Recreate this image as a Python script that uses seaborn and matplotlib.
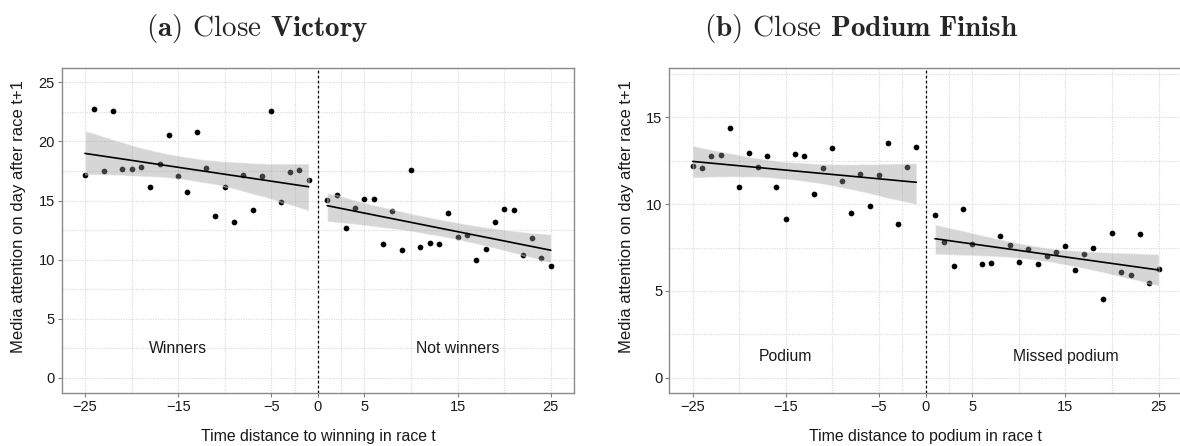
import matplotlib
matplotlib.use("Agg")
import matplotlib.pyplot as plt
import numpy as np
import pandas as pd
import seaborn as sns
from matplotlib.collections import PolyCollection

# Panel (a): close victory, media attention by time distance to the winner
win_x = list(range(-25, 0))
win_y = [17.13, 22.77, 17.47, 22.60, 17.64, 17.70, 17.80, 16.11, 18.06, 20.57,
         17.05, 15.69, 20.77, 17.72, 13.66, 16.11, 13.15, 17.19, 14.17, 17.05,
         22.55, 14.84, 17.38, 17.55, 16.71]
notwin_x = list(range(1, 26))
notwin_y = [15.07, 15.44, 12.64, 14.34, 15.10, 15.10, 11.29, 14.08, 10.78, 17.55,
            11.04, 11.37, 11.29, 13.91, 11.88, 12.05, 10.00, 10.87, 13.15, 14.25,
            14.17, 10.36, 11.80, 10.11, 9.43]

# Panel (b): close podium finish
podium_x = list(range(-25, 0))
podium_y = [12.20, 12.09, 12.74, 12.80, 14.35, 11.00, 12.91, 12.11, 12.74, 11.00,
            9.16, 12.85, 12.74, 10.59, 12.05, 13.20, 11.30, 9.46, 11.70, 9.90,
            11.65, 13.49, 8.87, 12.11, 13.26]
missed_x = list(range(1, 26))
missed_y = [9.35, 7.80, 6.42, 9.69, 7.68, 6.53, 6.59, 8.14, 7.62, 6.65,
            7.39, 6.53, 6.99, 7.22, 7.57, 6.19, 7.11, 7.45, 4.52, 8.31,
            6.07, 5.90, 8.26, 5.44, 6.25]

x_ticks = [-25, -15, -5, 0, 5, 15, 25]
x_minor = [-20, -10, -2.5, 2.5, 10, 20]

sns.set_style("white")
plt.rcParams["font.family"] = ["Liberation Sans", "DejaVu Sans"]
plt.rcParams["mathtext.fontset"] = "cm"

fig = plt.figure(figsize=(11.8, 4.46), dpi=100)
ax_a = fig.add_axes([0.0523, 0.1195, 0.4342, 0.7291])
ax_b = fig.add_axes([0.5672, 0.1195, 0.4345, 0.7291])


def draw_panel(ax, xl, yl, xr, yr, ymax, yticks, labels, label_y, xlabel, seed):
    df = pd.DataFrame({"x": xl + xr, "y": yl + yr})
    sns.scatterplot(data=df, x="x", y="y", color="black", s=17, linewidth=0,
                    ax=ax, zorder=2)
    for i, (xs, ys) in enumerate(((xl, yl), (xr, yr))):
        sns.regplot(x=np.array(xs), y=np.array(ys), scatter=False, ci=95,
                    n_boot=2000, seed=seed + i, color="black", truncate=True,
                    line_kws=dict(lw=1.2, zorder=4), ax=ax)
        band = [c for c in ax.collections if isinstance(c, PolyCollection)][-1]
        band.set_facecolor((0.6, 0.6, 0.6))
        band.set_alpha(0.4)
        band.set_zorder(3)
    ax.axvline(0, color="black", lw=0.9, ls=(0, (2.2, 1.8)), zorder=3)

    pad = 0.05 * ymax
    ax.set_xlim(-27.5, 27.5)
    ax.set_ylim(-pad, ymax + pad)
    ax.set_xticks(x_ticks)
    ax.set_xticks(x_minor, minor=True)
    ax.set_yticks(yticks)
    ax.set_yticks(np.arange(2.5, ymax + pad, 5.0), minor=True)
    ax.grid(which="both", linestyle=(0, (1, 1.2)), color="#d9d9d9", lw=0.8)
    ax.set_axisbelow(True)
    ax.tick_params(which="major", length=3, width=0.8, color="#7f7f7f",
                   labelsize=10.5, labelcolor="#1a1a1a", pad=2,
                   left=True, bottom=True)
    ax.tick_params(which="minor", length=0)
    for sp in ax.spines.values():
        sp.set_color("#8a8a8a")
        sp.set_linewidth(1.0)
    ax.text(-15, label_y, labels[0], ha="center", va="center", fontsize=11.3,
            color="#1a1a1a")
    ax.text(15, label_y, labels[1], ha="center", va="center", fontsize=11.3,
            color="#1a1a1a")
    ax.set_xlabel(xlabel, fontsize=11.4, color="#1a1a1a", labelpad=11)
    ax.set_ylabel("Media attention on day after race t+1", fontsize=12,
                  color="#1a1a1a")
    ax.yaxis.set_label_coords(-0.069, 0.543)


draw_panel(ax_a, win_x, win_y, notwin_x, notwin_y, 25, [0, 5, 10, 15, 20, 25],
           ("Winners", "Not winners"), 2.5,
           "Time distance to winning in race t", seed=3)
draw_panel(ax_b, podium_x, podium_y, missed_x, missed_y, 17, [0, 5, 10, 15],
           ("Podium", "Missed podium"), 1.25,
           "Time distance to podium in race t", seed=11)

fig.text(0.218, 0.937, r"$\mathbf{(a)}$ Close $\mathbf{Victory}$",
         family="cmr10", fontsize=21, ha="center", va="center")
fig.text(0.730, 0.937, r"$\mathbf{(b)}$ Close $\mathbf{Podium\ Finish}$",
         family="cmr10", fontsize=21, ha="center", va="center")

fig.savefig("out.png", dpi=100)
